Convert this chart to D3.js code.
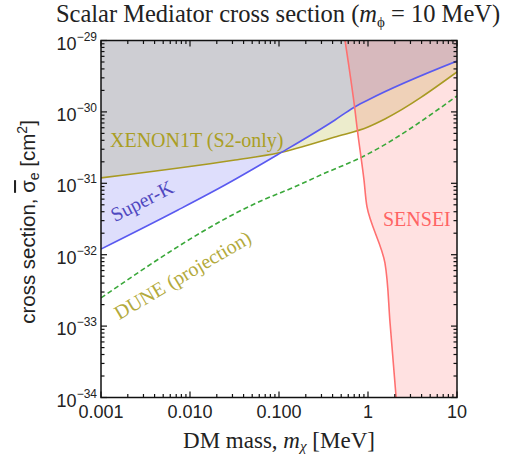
<!DOCTYPE html>
<html><head><meta charset="utf-8">
<script src="https://cdn.jsdelivr.net/npm/d3@7"></script>
<style>body{margin:0;background:#fff}</style>
</head><body>
<svg id="chart" width="506" height="456"></svg>
<script>
// Axis ticks
const massTicks = [0.001, 0.01, 0.1, 1, 10];
const massTickLabels = ["0.001", "0.010", "0.100", "1", "10"];
const sigmaExponents = [-34, -33, -32, -31, -30, -29];

// XENON1T (S2-only) exclusion boundary
const xenonMass  = [0.001, 0.0321, 0.0975, 0.426, 1.0, 1.55, 10];
const xenonSigma = [1.19e-31, 2.12e-31, 2.65e-31, 4.45e-31, 6.15e-31, 7.96e-31, 3.62e-30];

// Super-K exclusion boundary
const superkMass  = [0.001, 0.00733, 0.0247, 0.0951, 0.426, 0.678, 1.0, 10];
const superkSigma = [1.20e-32, 4.23e-32, 9.46e-32, 2.49e-31, 7.71e-31, 1.135e-30, 1.47e-30, 5.16e-30];

// DUNE projected sensitivity
const duneMass  = [0.001, 0.0661, 0.140, 0.329, 0.813, 10];
const duneSigma = [2.48e-33, 5.83e-32, 8.59e-32, 1.39e-31, 2.26e-31, 1.67e-30];

// SENSEI exclusion boundary (excluded to the right)
const senseiMass  = [0.552, 0.714, 0.752, 0.902, 0.975, 1.55, 1.77, 2.07];
const senseiSigma = [1e-29, 1.06e-30, 6.15e-31, 1.11e-31, 4.66e-32, 7.66e-33, 1.10e-33, 1e-34];

const svg = d3.select("#chart");
const L = 101, R = 457, T = 40.5, B = 397.5;

const x = d3.scaleLog().domain([0.001, 10]).range([L, R]);
const y = d3.scaleLog().domain([1e-34, 1e-29]).range([B, T]);

const serif = "'Liberation Serif', 'Times New Roman', serif";
const sans = "'Liberation Sans', Arial, sans-serif";

svg.append("clipPath").attr("id", "plotclip")
  .append("rect").attr("x", L).attr("y", T).attr("width", R - L).attr("height", B - T);

const plot = svg.append("g").attr("clip-path", "url(#plotclip)");

const zip = (ms, ss) => ms.map((m, i) => [m, ss[i]]);
const xenon = zip(xenonMass, xenonSigma);
const superk = zip(superkMass, superkSigma);
const dune = zip(duneMass, duneSigma);
const sensei = zip(senseiMass, senseiSigma);

const line = d3.line().x(d => x(d[0])).y(d => y(d[1])).curve(d3.curveMonotoneX);
// SENSEI boundary is nearly vertical, so it is interpolated along sigma
const lineV = d3.line().x(d => x(d[0])).y(d => y(d[1])).curve(d3.curveMonotoneY);
const areaTop = d3.area().x(d => x(d[0])).y0(d => y(d[1])).y1(T).curve(d3.curveMonotoneX);

// filled exclusion regions
plot.append("path").attr("d", areaTop(xenon)).attr("fill", "#a0a000").attr("fill-opacity", 0.2);
plot.append("path").attr("d", areaTop(superk)).attr("fill", "#5a5af0").attr("fill-opacity", 0.2);
plot.append("path")
  .attr("d", lineV(sensei) + `L${x(10) + 5},${y(1e-34)}L${x(10) + 5},${y(1e-29)}Z`)
  .attr("fill", "#ff6969").attr("fill-opacity", 0.2);

// boundary curves
plot.append("path").attr("d", line(xenon)).attr("fill", "none").attr("stroke", "#a89a22").attr("stroke-width", 1.6);
plot.append("path").attr("d", line(superk)).attr("fill", "none").attr("stroke", "#5a5af0").attr("stroke-width", 1.6);
plot.append("path").attr("d", line(dune)).attr("fill", "none").attr("stroke", "#3aa83a")
  .attr("stroke-width", 1.6).attr("stroke-dasharray", "5,3");
plot.append("path").attr("d", lineV(sensei)).attr("fill", "none").attr("stroke", "#ff7070").attr("stroke-width", 1.6);

// frame
svg.append("rect").attr("x", L).attr("y", T).attr("width", R - L).attr("height", B - T)
  .attr("fill", "none").attr("stroke", "#111").attr("stroke-width", 1.5);

// ticks on all four sides
const ticks = svg.append("g").attr("stroke", "#111").attr("stroke-width", 1.2);
const major = 6, minor = 3.5;
const xMinor = [];
for (let d = -3; d < 1; d++) for (let k = 2; k <= 9; k++) xMinor.push(k * Math.pow(10, d));
const yMinor = [];
for (let e = -34; e < -29; e++) for (let k = 2; k <= 9; k++) yMinor.push(k * Math.pow(10, e));

function xTick(v, len) {
  const px = x(v);
  ticks.append("line").attr("x1", px).attr("x2", px).attr("y1", B).attr("y2", B - len);
  ticks.append("line").attr("x1", px).attr("x2", px).attr("y1", T).attr("y2", T + len);
}
function yTick(v, len) {
  const py = y(v);
  ticks.append("line").attr("y1", py).attr("y2", py).attr("x1", L).attr("x2", L + len);
  ticks.append("line").attr("y1", py).attr("y2", py).attr("x1", R).attr("x2", R - len);
}
massTicks.forEach(v => xTick(v, major));
xMinor.forEach(v => xTick(v, minor));
sigmaExponents.forEach(e => yTick(Math.pow(10, e), major));
yMinor.forEach(v => yTick(v, minor));

// x tick labels
svg.append("g").selectAll("text").data(massTicks).join("text")
  .attr("x", d => x(d)).attr("y", 418)
  .attr("text-anchor", "middle").attr("font-family", sans).attr("font-size", 18).attr("fill", "#222")
  .text((d, i) => massTickLabels[i]);

// y tick labels: 10 with superscript exponent
const yl = svg.append("g").attr("font-family", sans).attr("fill", "#222");
sigmaExponents.forEach(e => {
  const t = yl.append("text").attr("x", 97).attr("y", y(Math.pow(10, e)) + 9).attr("text-anchor", "end");
  t.append("tspan").attr("font-size", 18).text("10");
  t.append("tspan").attr("font-size", 12).attr("dy", -9).text("\u2212" + Math.abs(e));
});

// title
const title = svg.append("text").attr("x", 278).attr("y", 22).attr("text-anchor", "middle")
  .attr("font-family", serif).attr("font-size", 24.5).attr("fill", "#222");
title.append("tspan").text("Scalar Mediator cross section (");
title.append("tspan").attr("font-style", "italic").text("m");
title.append("tspan").attr("font-size", 15).attr("dy", 5).text("\u03D5");
title.append("tspan").attr("dy", -5).text(" = 10 MeV)");

// x axis title
const xt = svg.append("text").attr("x", 279).attr("y", 448).attr("text-anchor", "middle")
  .attr("font-family", serif).attr("font-size", 23).attr("fill", "#222");
xt.append("tspan").text("DM mass, ");
xt.append("tspan").attr("font-style", "italic").text("m");
xt.append("tspan").attr("font-style", "italic").attr("font-size", 15).attr("dy", 3).text("\u03C7");
xt.append("tspan").attr("dy", -3).text(" [MeV]");

// y axis title
const ytt = svg.append("text").attr("transform", "translate(35,222) rotate(-90)").attr("text-anchor", "middle")
  .attr("font-family", sans).attr("font-size", 20.5).attr("fill", "#222");
ytt.append("tspan").text("cross section, ");
ytt.append("tspan").attr("text-decoration", "overline").text("\u03C3");
ytt.append("tspan").attr("font-size", 14).attr("dy", 4).text("e");
ytt.append("tspan").attr("dy", -4).text(" [cm");
ytt.append("tspan").attr("font-size", 14).attr("dy", -8).text("2");
ytt.append("tspan").attr("dy", 8).text("]");

// series labels
svg.append("text").attr("x", 110).attr("y", 147).attr("font-family", serif).attr("font-size", 20)
  .attr("fill", "#aa9e24").text("XENON1T (S2-only)");
svg.append("text").attr("transform", "translate(145,207) rotate(-27)").attr("text-anchor", "middle")
  .attr("font-family", serif).attr("font-size", 20).attr("fill", "#4f48c0").text("Super-K");
svg.append("text").attr("transform", "translate(186,281) rotate(-30.5)").attr("text-anchor", "middle")
  .attr("font-family", serif).attr("font-size", 20).attr("fill", "#b3aa3c").text("DUNE (projection)");
svg.append("text").attr("x", 383).attr("y", 226).attr("font-family", serif).attr("font-size", 20)
  .attr("fill", "#ff6464").text("SENSEI");
</script>
</body></html>
